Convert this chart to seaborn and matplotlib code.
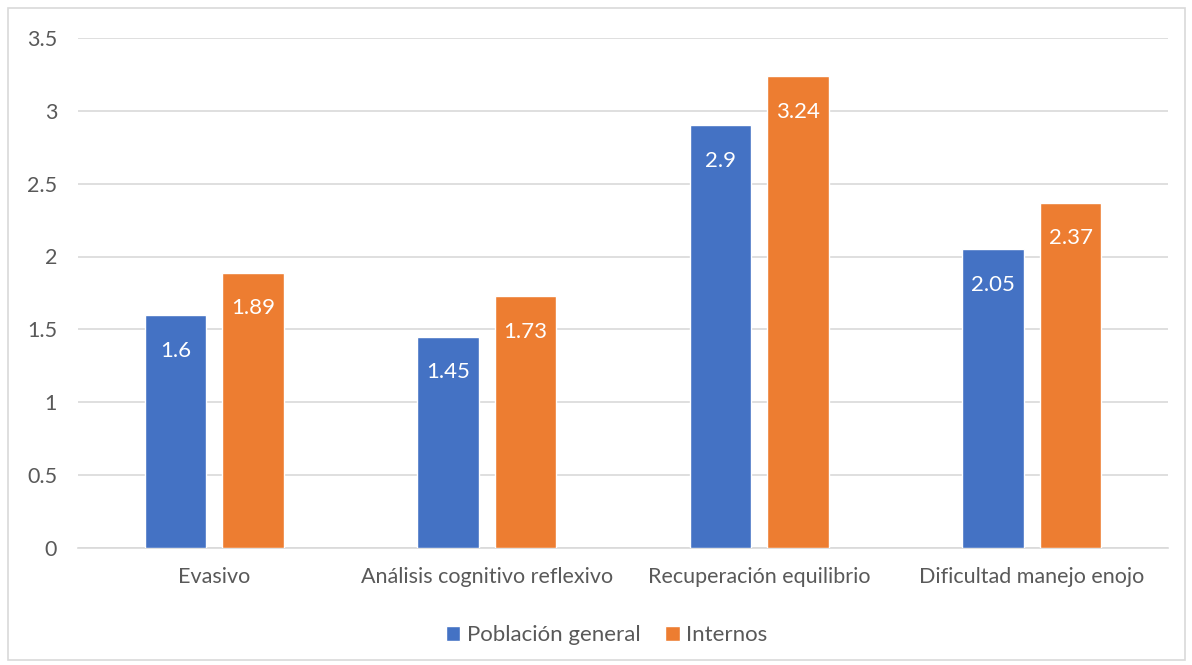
import matplotlib
matplotlib.use("Agg")
import matplotlib.pyplot as plt
from matplotlib.patches import Rectangle
import seaborn as sns
import pandas as pd

categories = ["Evasivo", "Análisis cognitivo reflexivo", "Recuperación equilibrio", "Dificultad manejo enojo"]
poblacion_general = [1.6, 1.45, 2.9, 2.05]
internos = [1.89, 1.73, 3.24, 2.37]
series_names = ["Población general", "Internos"]
colors = ["#4472C4", "#ED7D31"]

df = pd.DataFrame({
    "categoria": categories * 2,
    "valor": poblacion_general + internos,
    "serie": [series_names[0]] * 4 + [series_names[1]] * 4,
})

sns.set_theme(style="white")
plt.rcParams["font.family"] = ["Lato", "DejaVu Sans"]

fig = plt.figure(figsize=(11.92, 6.65), dpi=100)
ax = fig.add_axes([0.0654, 0.176, 0.9145, 0.767])

sns.barplot(data=df, x="categoria", y="valor", hue="serie", order=categories,
            hue_order=series_names, palette=colors, width=0.569, gap=0.205,
            saturation=1, ax=ax, legend=True, zorder=3)

ax.set_ylim(0, 3.5)
ax.set_xlim(-0.5, 3.5)
ax.set_yticks([0, 0.5, 1, 1.5, 2, 2.5, 3, 3.5])
ax.set_yticklabels(["0", "0.5", "1", "1.5", "2", "2.5", "3", "3.5"])
ax.yaxis.grid(True, color="#D9D9D9", linewidth=1.2, zorder=0)
ax.set_axisbelow(True)
for s in ["top", "right", "left"]:
    ax.spines[s].set_visible(False)
ax.spines["bottom"].set_color("#D9D9D9")
ax.spines["bottom"].set_linewidth(1.2)
ax.tick_params(axis="both", length=0, labelsize=15.5, colors="#595959")
ax.tick_params(axis="y", pad=15)
ax.tick_params(axis="x", pad=14)
ax.set_xlabel("")
ax.set_ylabel("")

for container in ax.containers:
    labels = [f"{v:g}" for v in container.datavalues]
    ax.bar_label(container, labels=labels, padding=-33, color="white", fontsize=16)

leg = ax.legend(loc="upper center", bbox_to_anchor=(0.485, -0.112), ncol=2, frameon=False,
                fontsize=16, handlelength=0.65, handleheight=0.65, handletextpad=0.3,
                columnspacing=1.1)
for t in leg.get_texts():
    t.set_color("#595959")

fig.patches.append(Rectangle((8 / 1192, 5 / 665), 1177 / 1192, 652 / 665, transform=fig.transFigure,
                             fill=False, edgecolor="#D9D9D9", linewidth=1.2))

fig.savefig("out.png", dpi=100)
